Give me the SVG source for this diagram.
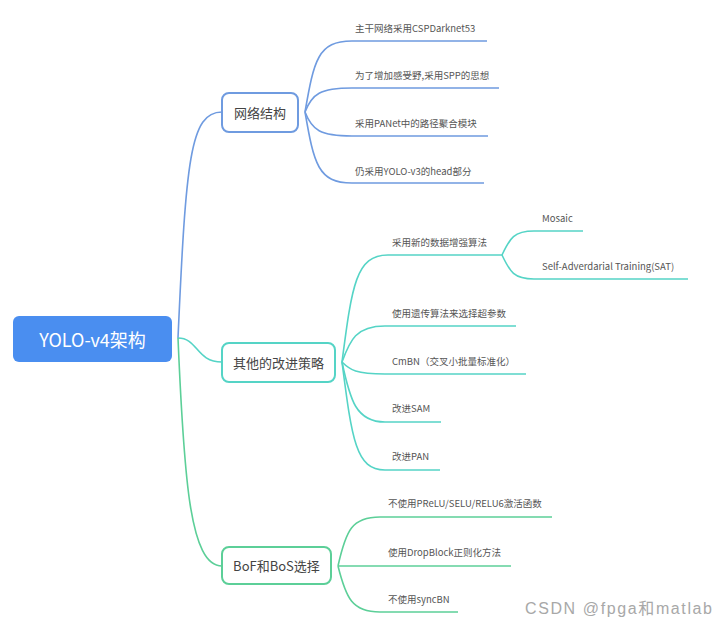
<svg xmlns="http://www.w3.org/2000/svg" width="723" height="628" viewBox="0 0 723 628">
<style>
.t{font-family:"Noto Sans CJK SC","Liberation Sans",sans-serif;font-size:9.5px;fill:#555}
.nt{font-family:"Noto Sans CJK SC","Liberation Sans",sans-serif;font-size:13px;fill:#444;text-anchor:middle;dominant-baseline:central}
.c{fill:none;stroke-width:1.6}
.b{stroke:#6f9be0}
.q{stroke:#55d4c6}
.g{stroke:#5ccf98}
.box{fill:#fff;stroke-width:2}
</style>
<rect width="723" height="628" fill="#fff"/>
<g id="connectors">
<path class="c b" d="M178,338 C186,160 190,112 222,112"/>
<path class="c q" d="M178,338 C198,338 196,362 222,362"/>
<path class="c g" d="M178,338 C184,480 190,566 222,566"/>
<path class="c b" d="M305,112 C314,60 318,41 352,41 L487,41"/>
<path class="c b" d="M305,112 C312,94 320,88 352,88 L499,88"/>
<path class="c b" d="M305,112 C312,130 320,136 352,136 L488,136"/>
<path class="c b" d="M305,112 C314,164 318,183 352,183 L484,183"/>
<path class="c q" d="M342,362 C352,285 356,255 388,255 L502,255"/>
<path class="c q" d="M502,255 C510,238 514,231 534,231 L583,231"/>
<path class="c q" d="M502,255 C510,272 514,279 534,279 L688,279"/>
<path class="c q" d="M342,362 C350,340 356,326 385,326 L516,326"/>
<path class="c q" d="M342,362 C350,370 356,374 385,374 L526,374"/>
<path class="c q" d="M342,362 C350,400 356,422 385,422 L441,422"/>
<path class="c q" d="M342,362 C352,440 356,470 385,470 L440,470"/>
<path class="c g" d="M338,566 C346,530 352,517 380,517 L552,517"/>
<path class="c g" d="M338,566 L511,566"/>
<path class="c g" d="M338,566 C346,598 352,612 380,612 L458,612"/>
</g>
<g id="root">
<rect x="13" y="316" width="159" height="46" rx="6" fill="#4a8ef0"/>
<text x="92.5" y="339" font-family="Noto Sans CJK SC,Liberation Sans,sans-serif" font-size="18" fill="#fff" text-anchor="middle" dominant-baseline="central">YOLO-v4架构</text>
</g>
<g id="n1">
<rect class="box b" x="222" y="93" width="76" height="39" rx="7"/>
<text class="nt" x="260" y="112.5">网络结构</text>
</g>
<g id="n2">
<rect class="box q" x="222" y="343" width="113" height="39" rx="7"/>
<text class="nt" x="278.5" y="362.5">其他的改进策略</text>
</g>
<g id="n3">
<rect class="box g" x="222" y="547" width="109" height="37" rx="7"/>
<text class="nt" x="276.5" y="565.5">BoF和BoS选择</text>
</g>
<g id="leaves">
<text class="t" x="355" y="32">主干网络采用CSPDarknet53</text>
<text class="t" x="355" y="79">为了增加感受野,采用SPP的思想</text>
<text class="t" x="355" y="127">采用PANet中的路径聚合模块</text>
<text class="t" x="355" y="175">仍采用YOLO-v3的head部分</text>
<text class="t" x="392" y="246">采用新的数据增强算法</text>
<text class="t" x="542" y="222">Mosaic</text>
<text class="t" x="542" y="270">Self-Adverdarial Training(SAT)</text>
<text class="t" x="392" y="317">使用遗传算法来选择超参数</text>
<text class="t" x="392" y="365">CmBN（交叉小批量标准化）</text>
<text class="t" x="392" y="412">改进SAM</text>
<text class="t" x="392" y="460">改进PAN</text>
<text class="t" x="388" y="507">不使用PReLU/SELU/RELU6激活函数</text>
<text class="t" x="388" y="556">使用DropBlock正则化方法</text>
<text class="t" x="388" y="603">不使用syncBN</text>
</g>
<text x="525" y="614" font-family="Liberation Sans,Noto Sans CJK SC,sans-serif" font-size="16" fill="#a8a8a8" textLength="187" lengthAdjust="spacing">CSDN @fpga和matlab</text>
</svg>
